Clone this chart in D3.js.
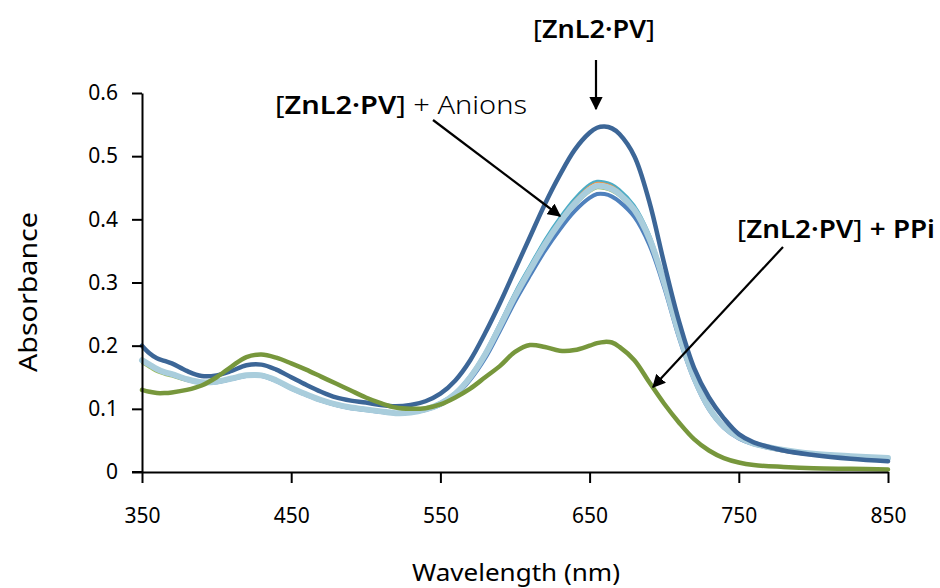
<!DOCTYPE html>
<html><head><meta charset="utf-8">
<script src="https://cdn.jsdelivr.net/npm/d3@7"></script>
<style>
body{margin:0;background:#fff;}
text{font-family:"Noto Sans","Open Sans",sans-serif;fill:#000;}
</style></head>
<body><svg id="c" width="940" height="588"></svg>
<script>
const wavelengths=[350,355,360,365,370,380,390,400,410,420,430,440,450,460,470,480,490,500,510,520,530,540,550,560,570,580,590,600,610,620,630,640,650,655,660,665,670,680,690,700,710,720,730,740,750,760,780,800,825,850];
const pv=[0.200,0.188,0.180,0.176,0.172,0.160,0.152,0.153,0.160,0.169,0.170,0.162,0.150,0.138,0.127,0.118,0.113,0.110,0.106,0.104,0.106,0.112,0.124,0.145,0.177,0.220,0.268,0.320,0.372,0.424,0.470,0.510,0.537,0.545,0.547,0.544,0.535,0.500,0.428,0.330,0.238,0.165,0.118,0.085,0.060,0.047,0.034,0.027,0.021,0.017];
const anionsMain=[0.177,0.170,0.163,0.158,0.155,0.147,0.142,0.143,0.148,0.153,0.153,0.145,0.133,0.123,0.114,0.107,0.102,0.099,0.096,0.093,0.094,0.099,0.108,0.124,0.150,0.186,0.231,0.278,0.320,0.360,0.395,0.425,0.447,0.453,0.452,0.448,0.440,0.415,0.370,0.300,0.218,0.150,0.102,0.072,0.055,0.045,0.035,0.029,0.025,0.022];
const anionsBlue=[0.176,0.169,0.162,0.157,0.154,0.146,0.141,0.142,0.147,0.152,0.152,0.144,0.132,0.122,0.113,0.106,0.101,0.098,0.095,0.093,0.094,0.098,0.106,0.121,0.146,0.180,0.224,0.270,0.311,0.350,0.384,0.413,0.434,0.440,0.440,0.436,0.428,0.404,0.360,0.292,0.212,0.146,0.099,0.070,0.053,0.044,0.034,0.028,0.024,0.021];
const anionsOrange=[0.178,0.171,0.164,0.159,0.156,0.148,0.143,0.144,0.149,0.154,0.154,0.146,0.134,0.124,0.115,0.108,0.103,0.100,0.097,0.094,0.095,0.100,0.110,0.126,0.153,0.190,0.236,0.284,0.326,0.367,0.402,0.432,0.454,0.459,0.458,0.454,0.446,0.421,0.376,0.305,0.221,0.151,0.102,0.071,0.053,0.043,0.032,0.026,0.022,0.019];
const anionsTeal=[0.179,0.172,0.165,0.160,0.157,0.149,0.144,0.145,0.150,0.155,0.155,0.147,0.135,0.125,0.116,0.109,0.104,0.101,0.098,0.095,0.096,0.101,0.111,0.127,0.154,0.191,0.238,0.286,0.328,0.369,0.404,0.434,0.456,0.461,0.460,0.456,0.448,0.423,0.378,0.307,0.223,0.154,0.104,0.074,0.057,0.047,0.037,0.031,0.027,0.024];
const anionsOlive=[0.172,0.165,0.158,0.154,0.151,0.144,0.140,0.141,0.146,0.151,0.151,0.143,0.131,0.121,0.112,0.105,0.100,0.097,0.094,0.092,0.093,0.097,0.106,0.122,0.148,0.183,0.228,0.275,0.316,0.356,0.391,0.421,0.443,0.449,0.448,0.444,0.436,0.411,0.366,0.296,0.215,0.148,0.100,0.070,0.053,0.044,0.034,0.028,0.024,0.021];
const ppi=[0.130,0.127,0.125,0.125,0.126,0.130,0.137,0.150,0.167,0.182,0.186,0.181,0.172,0.162,0.151,0.140,0.129,0.118,0.109,0.102,0.100,0.101,0.107,0.118,0.132,0.150,0.168,0.190,0.201,0.198,0.192,0.193,0.200,0.204,0.206,0.205,0.198,0.177,0.142,0.108,0.078,0.052,0.034,0.022,0.015,0.011,0.008,0.006,0.005,0.004];
const xTicks=[350,450,550,650,750,850];
const yTicks=[0,0.1,0.2,0.3,0.4,0.5,0.6];

const svg=d3.select("#c");
const x=d3.scaleLinear().domain([350,850]).range([142,888]);
const y=d3.scaleLinear().domain([0,0.6]).range([472,93]);

const series=[
 {v:anionsOlive,c:"#9BBB59",w:2},
 {v:anionsOrange,c:"#F79646",w:2},
 {v:anionsTeal,c:"#4BACC6",w:2},
 {v:anionsBlue,c:"#4F81BD",w:4},
 {v:anionsMain,c:"#A9CDDC",w:6},
 {v:pv,c:"#3C6697",w:4.5},
 {v:ppi,c:"#77973C",w:4.5}
];
const line=d3.line().x((d,i)=>x(wavelengths[i])).y(d=>y(d)).curve(d3.curveCatmullRom.alpha(0.5));
svg.append("g").selectAll("path").data(series).join("path")
 .attr("d",d=>line(d.v)).attr("fill","none").attr("stroke",d=>d.c)
 .attr("stroke-width",d=>d.w).attr("stroke-linejoin","round").attr("stroke-linecap","round");

const xa=svg.append("g").attr("transform","translate(0,472)")
 .call(d3.axisBottom(x).tickValues(xTicks).tickSizeInner(11).tickSizeOuter(0).tickPadding(25).tickFormat(d3.format("d")));
const ya=svg.append("g").attr("transform","translate(142,0)")
 .call(d3.axisLeft(y).tickValues(yTicks).tickSizeInner(10).tickSizeOuter(0).tickPadding(14).tickFormat(d=>d===0?"0":d3.format(".1f")(d)));
[xa,ya].forEach(a=>{a.select(".domain").attr("stroke","#000").attr("stroke-width",2);
 a.selectAll(".tick line").attr("stroke","#000").attr("stroke-width",2);
 a.selectAll(".tick text").style("font-size","21px").style("font-family","'Noto Sans',sans-serif").attr("fill","#000");});
svg.append("line").attr("x1",132).attr("x2",142).attr("y1",472).attr("y2",472).attr("stroke","#000").attr("stroke-width",2);

svg.append("text").attr("x",516).attr("y",581).attr("text-anchor","middle").style("font-size","24px")
 .attr("textLength",208).attr("lengthAdjust","spacingAndGlyphs").text("Wavelength (nm)");
svg.append("text").attr("transform","translate(37,292) rotate(-90)").attr("text-anchor","middle").style("font-size","26px")
 .attr("textLength",160).attr("lengthAdjust","spacingAndGlyphs").text("Absorbance");

svg.append("defs").append("marker").attr("id","ah").attr("viewBox","0 0 10 10").attr("refX",9).attr("refY",5)
 .attr("markerWidth",6).attr("markerHeight",6).attr("orient","auto").attr("markerUnits","strokeWidth")
 .append("path").attr("d","M0,0 L10,5 L0,10 z").attr("fill","#000");

function label(xp,yp,rest,restBold,len){
 const t=svg.append("text").attr("x",xp).attr("y",yp).style("font-size","25px")
  .attr("textLength",len).attr("lengthAdjust","spacingAndGlyphs");
 t.append("tspan").text("[");
 t.append("tspan").style("font-weight","600").text("ZnL2·PV");
 t.append("tspan").text("]");
 if(rest){t.append("tspan").style("font-weight",restBold?"600":"300").text(rest);}
 return t;
}
label(533,38,"",false,122);
label(275,114," + Anions",false,252);
label(737,238," + PPi",true,198);

const arrows=[[596,60,596,109],[433,120,560,216],[783,247,653,387]];
svg.append("g").selectAll("line").data(arrows).join("line")
 .attr("x1",d=>d[0]).attr("y1",d=>d[1]).attr("x2",d=>d[2]).attr("y2",d=>d[3])
 .attr("stroke","#000").attr("stroke-width",2.2).attr("marker-end","url(#ah)");
</script></body></html>
